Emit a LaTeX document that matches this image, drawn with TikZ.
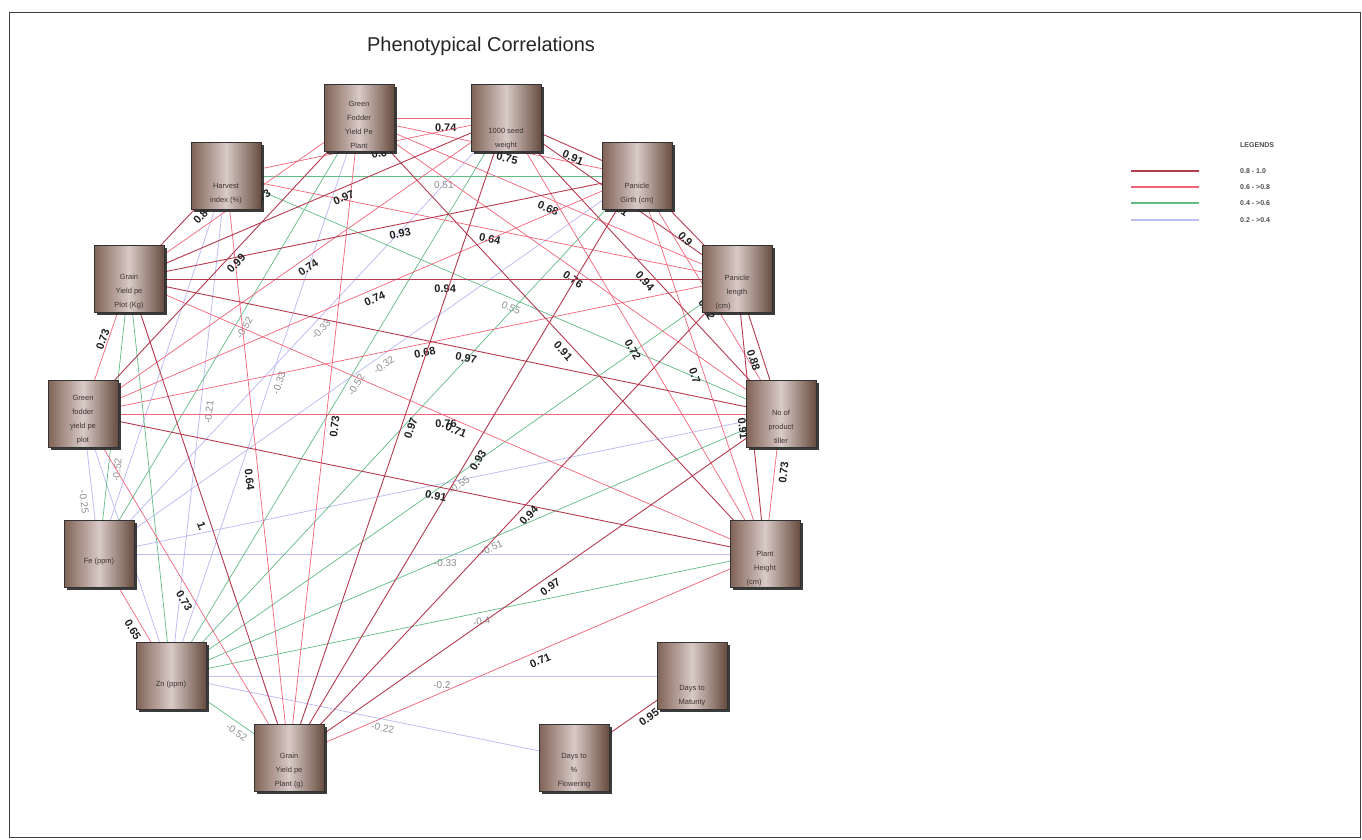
\documentclass[tikz,border=0pt]{standalone}
\usepackage{fontspec}
\setmainfont{Liberation Sans}
\usetikzlibrary{shadows}
\pgfdeclarelayer{edges}
\pgfsetlayers{edges,main}
\definecolor{cS}{RGB}{180,58,78}
\definecolor{cM}{RGB}{242,98,120}
\definecolor{cG}{RGB}{96,188,132}
\definecolor{cB}{RGB}{190,190,242}
\definecolor{bL}{RGB}{128,98,86}
\definecolor{bM}{RGB}{216,202,198}
\definecolor{bR}{RGB}{104,76,64}
\definecolor{txtbox}{RGB}{62,52,50}
\definecolor{lblgray}{RGB}{140,140,140}
\tikzset{
 box/.style={draw=black!80, line width=0.7pt, minimum width=70pt, minimum height=67pt, inner sep=0pt,
   left color=bL, right color=bR, middle color=bM,
   drop shadow={shadow xshift=3pt, shadow yshift=-2pt, fill=black!85, opacity=0.9}},
 btext/.style={font=\fontsize{7.5}{14}\selectfont, text=txtbox, align=center, inner sep=1pt},
 es/.style={draw=cS, line width=0.9pt},
 em/.style={draw=cM, line width=0.7pt},
 eg/.style={draw=cG, line width=0.7pt},
 eb/.style={draw=cB, line width=0.8pt},
 lb/.style={font=\fontsize{11}{12}\selectfont\bfseries, text=black!88, sloped, below=4pt, inner sep=1pt},
 lg/.style={font=\fontsize{10}{12}\selectfont, text=lblgray, sloped, below=4pt, inner sep=1pt},
 legtxt/.style={font=\fontsize{7}{8}\selectfont\bfseries, text=black!70, anchor=west, inner sep=0pt},
 legline/.style={line width=1.3pt},
 frame/.style={draw=black!75, line width=0.9pt},
}
\begin{document}
\begin{tikzpicture}[x=1pt,y=-1pt]
\useasboundingbox (0,0) rectangle (1362,839);
\draw[frame] (9.5,12.5) rectangle (1360.5,837.5);
\node[font=\fontsize{20}{24}\selectfont, text=black!85] (title) at (481,46) {Phenotypical Correlations};

% boxes
\node[box] (GFPL) at (359,118) {};
\node[box] (SW)   at (506,118) {};
\node[box] (HI)   at (226,176) {};
\node[box] (PG)   at (637,176) {};
\node[box] (GYP)  at (129,279) {};
\node[box] (PL)   at (737,279) {};
\node[box] (GFP)  at (83,414) {};
\node[box] (NT)   at (781,414) {};
\node[box] (FE)   at (99,554) {};
\node[box] (PH)   at (765,554) {};
\node[box] (ZN)   at (171,676) {};
\node[box] (DM)   at (692,676) {};
\node[box] (GYPL) at (289,758) {};
\node[box] (DF)   at (574,758) {};

% box texts
\node[btext,anchor=south] (tGFPL) at ([yshift=2pt]GFPL.south) {Green\\Fodder\\Yield Pe\\Plant};
\node[btext,anchor=south] (tSW) at ([yshift=2pt]SW.south) {1000 seed\\weight};
\node[btext,anchor=south] (tHI) at ([yshift=5pt]HI.south) {Harvest\\index (\%)};
\node[btext,anchor=south] (tPG) at ([yshift=5pt]PG.south) {Panicle\\Girth (cm)};
\node[btext,anchor=south] (tGYP) at ([yshift=3pt]GYP.south) {Grain\\Yield pe\\Plot (Kg)};
\node[btext,anchor=south] (tPL) at ([yshift=2pt]PL.south) {Panicle\\length\\(cm)\hspace*{28pt}};
\node[btext,anchor=south] (tGFP) at ([yshift=3pt]GFP.south) {Green\\fodder\\yield pe\\plot};
\node[btext,anchor=south] (tNT) at ([yshift=3pt]NT.south) {No of\\product\\tiller};
\node[btext] (tFE) at ([yshift=-8pt]FE.center) {Fe (ppm)};
\node[btext,anchor=south] (tPH) at ([yshift=1pt]PH.south) {Plant\\Height\\(cm)\hspace*{22pt}};
\node[btext] (tZN) at ([yshift=-9pt]ZN.center) {Zn (ppm)};
\node[btext,anchor=south] (tDM) at ([yshift=3pt]DM.south) {Days to\\Maturity};
\node[btext,anchor=south] (tGYPL) at ([yshift=3pt]GYPL.south) {Grain\\Yield pe\\Plant (g)};
\node[btext,anchor=south] (tDF) at ([yshift=3pt]DF.south) {Days to\\\%\\Flowering};

% legend
\node[legtxt] (legT) at (1240,145) {LEGENDS};
\coordinate (la1) at (1131,171); \coordinate (lb1) at (1199,171);
\coordinate (la2) at (1131,187); \coordinate (lb2) at (1199,187);
\coordinate (la3) at (1131,203); \coordinate (lb3) at (1199,203);
\coordinate (la4) at (1131,220); \coordinate (lb4) at (1199,220);
\draw[es,legline] (la1) -- (lb1);
\draw[em,legline] (la2) -- (lb2);
\draw[eg,legline] (la3) -- (lb3);
\draw[eb,legline] (la4) -- (lb4);
\node[legtxt] (leg1) at (1240,171) {0.8 - 1.0};
\node[legtxt] (leg2) at (1240,187) {0.6 - >0.8};
\node[legtxt] (leg3) at (1240,203) {0.4 - >0.6};
\node[legtxt] (leg4) at (1240,220) {0.2 - >0.4};

\begin{pgfonlayer}{edges}
% weak blue
\draw[eb] (FE.center) -- node[lg,pos=.53]{-0.33} (SW.center);
\draw[eb] (ZN.center) -- node[lg,pos=.53]{-0.33} (GFPL.center);
\draw[eb] (ZN.center) -- node[lg,pos=.53]{-0.21} (HI.center);
\draw[eb] (FE.center) -- node[lg,pos=.52]{-0.32} (PG.center);
\draw[eb] (GFP.center) -- node[lg,pos=.62]{-0.25} (FE.center);
\draw[eb] (FE.center) -- node[lg,pos=.52]{-0.33} (PH.center);
\draw[eb] (ZN.center) -- node[lg,pos=.52]{-0.2} (DM.center);
\draw[eb] (ZN.center) -- node[lg,pos=.53]{-0.22} (DF.center);
\draw[eb] (FE.center) -- (NT.center);
\draw[eb] (GFP.center) -- (ZN.center);
\draw[eb] (FE.center) -- (HI.center);
% green
\draw[eg] (HI.center) -- node[lg,pos=.53]{0.51} (PG.center);
\draw[eg] (HI.center) -- node[lg,pos=.52]{0.55} (NT.center);
\draw[eg] (FE.center) -- node[lg,pos=.53]{-0.52} (GFPL.center);
\draw[eg] (ZN.center) -- node[lg,pos=.53]{-0.52} (SW.center);
\draw[eg] (ZN.center) -- node[lg,pos=.50]{-0.55} (PL.center);
\draw[eg] (FE.center) -- node[lg,pos=.31]{-0.52} (GYP.center);
\draw[eg] (ZN.center) -- node[lg,pos=.52]{-0.51} (NT.center);
\draw[eg] (ZN.center) -- node[lg,pos=.52]{-0.4} (PH.center);
\draw[eg] (ZN.center) -- node[lg,pos=.6]{-0.52} (GYPL.center);
\draw[eg] (GYP.center) -- (ZN.center);
\draw[eg] (ZN.center) -- (PG.center);
% medium
\draw[em] (GFPL.center) -- node[lb,pos=.59]{0.74} (SW.center);
\draw[em] (HI.center) -- node[lb,pos=.54]{0.6} (SW.center);
\draw[em] (GFPL.center) -- node[lb,pos=.54]{0.75} (PG.center);
\draw[em] (GYP.center) -- node[lb,pos=.55]{0.73} (GFPL.center);
\draw[em] (GFPL.center) -- node[lb,pos=.51]{0.68} (PL.center);
\draw[em] (HI.center) -- node[lb,pos=.52]{0.64} (PL.center);
\draw[em] (GFP.center) -- node[lb,pos=.52]{0.74} (SW.center);
\draw[em] (GFPL.center) -- node[lb,pos=.52]{0.76} (NT.center);
\draw[em] (PG.center) -- node[lb,pos=.54]{0.72} (NT.center);
\draw[em] (GFP.center) -- node[lb,pos=.52]{0.74} (PG.center);
\draw[em] (GFP.center) -- node[lb,pos=.54,below=0pt,above=4pt]{0.73} (GYP.center);
\draw[em] (GFP.center) -- node[lb,pos=.52]{0.68} (PL.center);
\draw[em] (SW.center) -- node[lb,pos=.52]{0.72} (PH.center);
\draw[em] (PG.center) -- node[lb,pos=.52]{0.7} (PH.center);
\draw[em] (PH.center) -- node[lb,pos=.59]{0.73} (NT.center);
\draw[em] (GYPL.center) -- node[lb,pos=.52]{0.73} (GFPL.center);
\draw[em] (GFP.center) -- node[lb,pos=.52]{0.76} (NT.center);
\draw[em] (GYP.center) -- node[lb,pos=.52]{0.71} (PH.center);
\draw[em] (HI.center) -- node[lb,pos=.52]{0.64} (GYPL.center);
\draw[em] (GFP.center) -- node[lb,pos=.53]{0.73} (GYPL.center);
\draw[em] (FE.center) -- node[lb,pos=.58]{0.65} (ZN.center);
\draw[em] (GYPL.center) -- node[lb,pos=.52]{0.71} (PH.center);
% strong
\draw[es] (SW.center) -- node[lb,pos=.54]{0.91} (PG.center);
\draw[es] (SW.center) -- node[lb,pos=.51]{0.91} (PL.center);
\draw[es] (GYP.center) -- node[lb,pos=.69]{0.84} (HI.center);
\draw[es] (GYP.center) -- node[lb,pos=.56]{0.97} (SW.center);
\draw[es] (GYP.center) -- node[lb,pos=.53]{0.93} (PG.center);
\draw[es] (PG.center) -- node[lb,pos=.55]{0.9} (PL.center);
\draw[es] (GFP.center) -- node[lb,pos=.53]{0.99} (GFPL.center);
\draw[es] (GYP.center) -- node[lb,pos=.52]{0.94} (PL.center);
\draw[es] (SW.center) -- node[lb,pos=.53]{0.94} (NT.center);
\draw[es] (GYP.center) -- node[lb,pos=.52]{0.97} (NT.center);
\draw[es] (GFPL.center) -- node[lb,pos=.52]{0.91} (PH.center);
\draw[es] (PL.center) -- node[lb,pos=.58]{0.88} (NT.center);
\draw[es] (PL.center) -- node[lb,pos=.54]{0.91} (PH.center);
\draw[es] (GYPL.center) -- node[lb,pos=.52]{0.97} (SW.center);
\draw[es] (GYPL.center) -- node[lb,pos=.52]{0.93} (PG.center);
\draw[es] (GFP.center) -- node[lb,pos=.52]{0.91} (PH.center);
\draw[es] (GYP.center) -- node[lb,pos=.51]{1.} (GYPL.center);
\draw[es] (GYPL.center) -- node[lb,pos=.52]{0.94} (PL.center);
\draw[es] (GYPL.center) -- node[lb,pos=.52]{0.97} (NT.center);
\draw[es] (DF.center) -- node[lb,pos=.59]{0.95} (DM.center);
\end{pgfonlayer}
\end{tikzpicture}
\end{document}
